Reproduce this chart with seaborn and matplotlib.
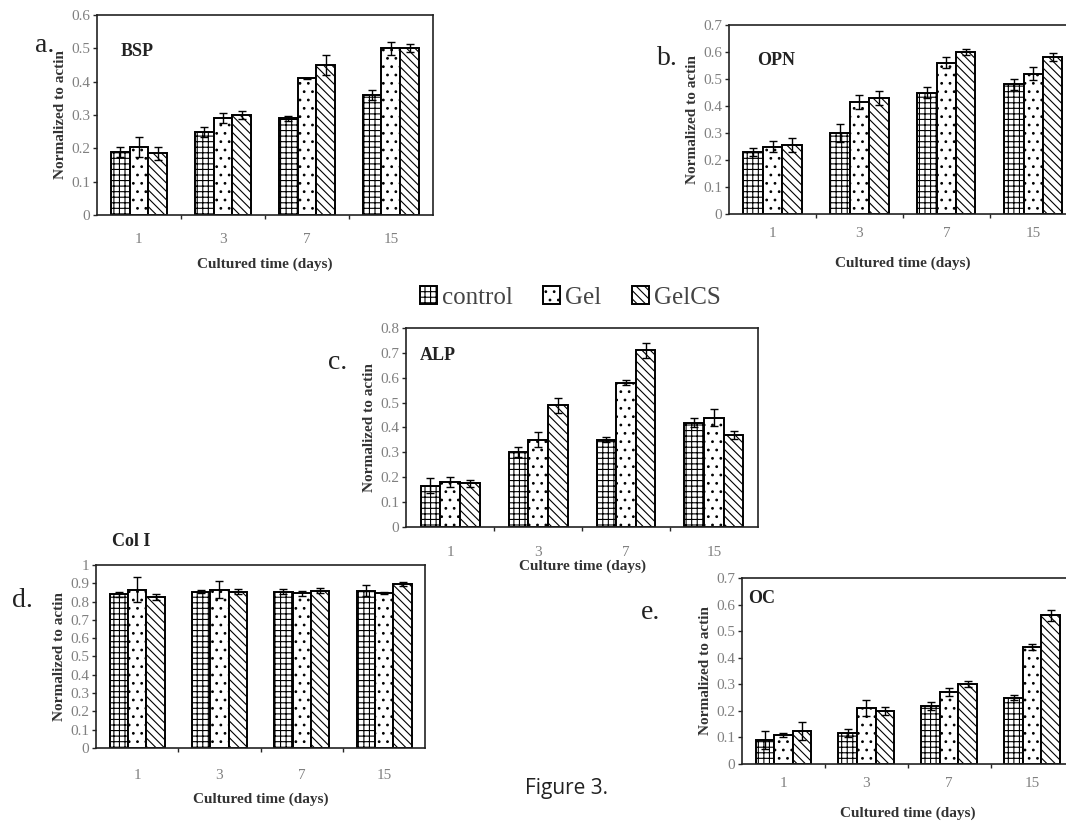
import numpy as np
import pandas as pd
import matplotlib.pyplot as plt
import seaborn as sns

# --- data (rows: control, Gel, GelCS; cols: day 1, 3, 7, 15) ---
days = ["1", "3", "7", "15"]
groups = ["control", "Gel", "GelCS"]

bsp_means = [[0.19, 0.25, 0.29, 0.36], [0.205, 0.29, 0.41, 0.50], [0.185, 0.30, 0.45, 0.50]]
bsp_errs = [[0.015, 0.015, 0.008, 0.015], [0.03, 0.015, 0.002, 0.02], [0.02, 0.012, 0.03, 0.012]]

opn_means = [[0.23, 0.30, 0.45, 0.48], [0.25, 0.415, 0.56, 0.52], [0.255, 0.43, 0.60, 0.58]]
opn_errs = [[0.015, 0.035, 0.02, 0.02], [0.02, 0.025, 0.02, 0.025], [0.025, 0.025, 0.01, 0.015]]

alp_means = [[0.165, 0.30, 0.35, 0.42], [0.18, 0.35, 0.58, 0.44], [0.175, 0.49, 0.71, 0.37]]
alp_errs = [[0.03, 0.02, 0.01, 0.02], [0.02, 0.03, 0.01, 0.035], [0.015, 0.03, 0.03, 0.015]]

col1_means = [[0.84, 0.855, 0.855, 0.86], [0.865, 0.865, 0.845, 0.845], [0.825, 0.855, 0.86, 0.895]]
col1_errs = [[0.015, 0.01, 0.015, 0.03], [0.07, 0.045, 0.015, 0.005], [0.015, 0.015, 0.015, 0.01]]

oc_means = [[0.09, 0.115, 0.22, 0.25], [0.11, 0.21, 0.27, 0.44], [0.125, 0.20, 0.30, 0.56]]
oc_errs = [[0.035, 0.015, 0.015, 0.008], [0.008, 0.03, 0.015, 0.012], [0.035, 0.015, 0.012, 0.02]]

hatches = ["+++", "..", "\\\\\\\\"]

sns.set_style("white")
plt.rcParams["font.family"] = ["Liberation Serif", "DejaVu Serif"]
plt.rcParams["hatch.linewidth"] = 0.8
plt.rcParams["axes.linewidth"] = 1.2

TICK_GREY = "#808080"
LABEL_GREY = "#333333"


def to_frame(means):
    rows = []
    for g, vals in zip(groups, means):
        for d, v in zip(days, vals):
            rows.append({"day": d, "group": g, "value": v})
    return pd.DataFrame(rows)


def draw_panel(ax, means, errs, ymax, step, gene, gene_xy, xlabel, tick_pad, label_pad):
    df = to_frame(means)
    sns.barplot(data=df, x="day", y="value", hue="group", order=days, hue_order=groups,
                palette=["white"] * 3, edgecolor="black", linewidth=1.4,
                width=0.67, errorbar=None, legend=False, ax=ax)
    bar_conts = list(ax.containers[:3])
    for cont, h, err in zip(bar_conts, hatches, errs):
        xs = []
        ys = []
        for bar in cont:
            bar.set_hatch(h)
            xs.append(bar.get_x() + bar.get_width() / 2)
            ys.append(bar.get_height())
        ax.errorbar(xs, ys, yerr=err, fmt="none", ecolor="black", elinewidth=1.0,
                    capsize=3, capthick=1.0)

    ax.set_xlim(-0.5, len(days) - 0.5)
    ax.set_ylim(0, ymax)
    ticks = np.round(np.arange(0, ymax + step / 2, step), 2)
    ax.set_yticks(ticks)
    ax.set_yticklabels([f"{t:g}" for t in ticks], color=TICK_GREY, fontsize=11)
    ax.tick_params(axis="y", length=3, width=1, direction="out", left=True, pad=2)
    ax.tick_params(axis="x", which="major", length=0, pad=tick_pad, labelsize=11,
                   labelcolor=TICK_GREY)
    ax.set_xticks(np.arange(0.5, len(days) - 0.5), minor=True)
    ax.tick_params(axis="x", which="minor", length=3, width=1, bottom=True, direction="out")

    for s in ax.spines.values():
        s.set_visible(True)
        s.set_color("#222222")
    ax.set_ylabel("Normalized to actin", fontsize=11, fontweight="bold", color=LABEL_GREY,
                  labelpad=3)
    ax.set_xlabel(xlabel, fontsize=11, fontweight="bold", color=LABEL_GREY, labelpad=label_pad)
    if gene_xy is not None:
        ax.text(gene_xy[0], gene_xy[1], gene, transform=ax.transAxes, fontsize=13,
                fontweight="bold", color="#222222", ha="left", va="center")
    return bar_conts


fig = plt.figure(figsize=(10.66, 8.35), dpi=100)

ax_a = fig.add_axes([0.091, 0.7425, 0.315, 0.2395])
ax_b = fig.add_axes([0.684, 0.7437, 0.326, 0.2263])
ax_c = fig.add_axes([0.381, 0.3689, 0.330, 0.2383])
ax_d = fig.add_axes([0.090, 0.1042, 0.309, 0.2192])
ax_e = fig.add_axes([0.696, 0.0850, 0.311, 0.2228])

conts_a = draw_panel(ax_a, bsp_means, bsp_errs, 0.6, 0.1, "BSP", (0.07, 0.82),
                     "Cultured time (days)", 13, 8)
draw_panel(ax_b, opn_means, opn_errs, 0.7, 0.1, "OPN", (0.08, 0.81), "Cultured time (days)", 9, 12)
draw_panel(ax_c, alp_means, alp_errs, 0.8, 0.1, "ALP", (0.04, 0.86), "Culture time (days)", 14, 0)
draw_panel(ax_d, col1_means, col1_errs, 1.0, 0.1, "Col I", None, "Cultured time (days)", 15, 8)
draw_panel(ax_e, oc_means, oc_errs, 0.7, 0.1, "OC", (0.02, 0.89), "Cultured time (days)", 9, 12)

ax_d.text(0.05, 1.08, "Col I", transform=ax_d.transAxes, fontsize=13, fontweight="bold",
          color="#222222", ha="left", va="bottom")

# panel letters
for lbl, x, y in [("a.", 0.042, 0.946), ("b.", 0.626, 0.930), ("c.", 0.317, 0.566),
                  ("d.", 0.021, 0.281), ("e.", 0.610, 0.266)]:
    fig.text(x, y, lbl, fontsize=20, color="#222222", ha="center", va="center")

handles = [cont.patches[0] for cont in conts_a]
fig.legend(handles, groups, loc="center", bbox_to_anchor=(0.535, 0.644), ncol=3,
           frameon=False, fontsize=18, handlelength=0.7, handleheight=0.7,
           handletextpad=0.2, columnspacing=1.2, labelcolor="#444444")

fig.text(0.531, 0.056, "Figure 3.", fontsize=15, family=["Open Sans", "DejaVu Sans"],
         color="#222222", ha="center", va="center")

fig.savefig("out.png", dpi=100)
